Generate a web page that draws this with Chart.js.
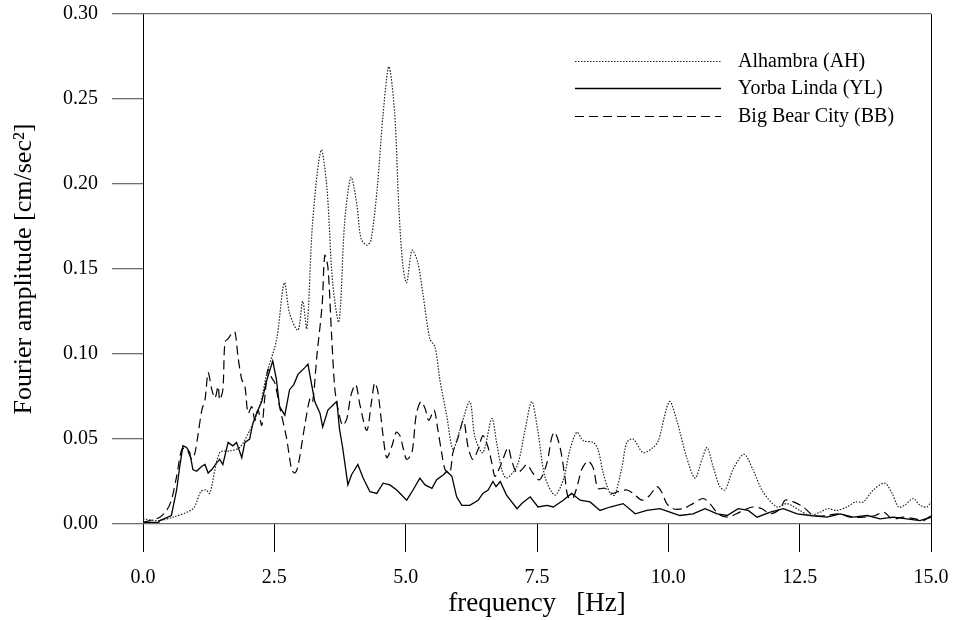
<!DOCTYPE html>
<html>
<head>
<meta charset="utf-8">
<title>Fourier amplitude spectra</title>
<script src="https://cdn.jsdelivr.net/npm/chart.js@4"></script>
<style>
  body { margin: 0; background: #fff; }
  #wrap { width: 955px; height: 620px; }
</style>
</head>
<body>
<div id="wrap"><canvas id="spectrum" width="955" height="620"></canvas></div>
<script>
// values (frequency in Hz, amplitude in cm/sec^2)
const alhFreq = [0.0, 0.3, 0.57, 0.95, 1.1, 1.2, 1.27, 1.46, 1.65, 1.84, 2.03, 2.22, 2.36, 2.54, 2.66, 2.7, 2.79, 2.95, 3.04, 3.12,
  3.23, 3.39, 3.5, 3.61, 3.73, 3.84, 3.96, 4.07, 4.15, 4.26, 4.34, 4.46, 4.57, 4.68, 4.79, 4.87, 4.95, 5.02, 5.12, 5.23,
  5.33, 5.46, 5.56, 5.65, 5.78, 5.9, 6.03, 6.22, 6.32, 6.47, 6.64, 6.73, 6.83, 6.92, 7.12, 7.27, 7.4, 7.52, 7.65, 7.84,
  8.0, 8.13, 8.26, 8.38, 8.57, 8.66, 8.76, 8.89, 8.98, 9.12, 9.21, 9.33, 9.52, 9.71, 9.81, 10.02, 10.16, 10.35, 10.51, 10.64,
  10.74, 10.85, 10.98, 11.08, 11.23, 11.44, 11.61, 11.8, 12.07, 12.26, 12.5, 12.7, 12.89, 13.04, 13.2, 13.4, 13.56, 13.71, 13.9, 14.12,
  14.26, 14.38, 14.5, 14.66, 14.79, 14.92, 15.0];
const alhAmp = [0.003, 0.002, 0.004, 0.009, 0.019, 0.020, 0.018, 0.042, 0.043, 0.045, 0.055, 0.069, 0.089, 0.108, 0.138, 0.142, 0.124, 0.114, 0.131, 0.115,
  0.178, 0.220, 0.198, 0.142, 0.119, 0.178, 0.204, 0.188, 0.168, 0.164, 0.167, 0.198, 0.241, 0.269, 0.242, 0.186, 0.151, 0.142, 0.161, 0.154,
  0.135, 0.109, 0.104, 0.085, 0.064, 0.044, 0.055, 0.072, 0.051, 0.042, 0.062, 0.048, 0.032, 0.027, 0.034, 0.055, 0.072, 0.054, 0.028, 0.017,
  0.026, 0.044, 0.054, 0.049, 0.048, 0.044, 0.030, 0.018, 0.017, 0.034, 0.048, 0.050, 0.042, 0.045, 0.049, 0.072, 0.061, 0.039, 0.027, 0.038,
  0.045, 0.034, 0.022, 0.020, 0.032, 0.041, 0.032, 0.019, 0.010, 0.012, 0.008, 0.005, 0.007, 0.009, 0.008, 0.010, 0.013, 0.013, 0.020, 0.024,
  0.018, 0.010, 0.011, 0.015, 0.011, 0.010, 0.013];

const ylFreq = [0.0, 0.3, 0.32, 0.54, 0.64, 0.7, 0.76, 0.83, 0.89, 0.95, 1.02, 1.12, 1.18, 1.24, 1.31, 1.4, 1.46, 1.52, 1.62, 1.71,
  1.78, 1.88, 1.94, 2.03, 2.09, 2.16, 2.26, 2.36, 2.47, 2.54, 2.6, 2.7, 2.79, 2.87, 2.95, 3.08, 3.14, 3.21, 3.27, 3.37,
  3.42, 3.52, 3.65, 3.69, 3.74, 3.8, 3.9, 3.97, 4.09, 4.19, 4.32, 4.45, 4.57, 4.7, 4.83, 5.02, 5.14, 5.27, 5.37, 5.5,
  5.59, 5.72, 5.78, 5.88, 5.97, 6.07, 6.22, 6.38, 6.47, 6.57, 6.66, 6.72, 6.8, 6.92, 7.12, 7.21, 7.37, 7.52, 7.69, 7.81,
  8.0, 8.16, 8.32, 8.51, 8.7, 8.89, 9.14, 9.37, 9.59, 9.84, 10.03, 10.22, 10.47, 10.7, 10.93, 11.12, 11.33, 11.52, 11.69, 11.94,
  12.19, 12.45, 12.7, 13.02, 13.27, 13.52, 13.79, 14.03, 14.28, 14.54, 14.79, 15.0];
const ylAmp = [0.001, 0.001, 0.002, 0.005, 0.020, 0.034, 0.046, 0.045, 0.042, 0.032, 0.031, 0.034, 0.035, 0.030, 0.032, 0.036, 0.038, 0.035, 0.048, 0.046,
  0.048, 0.039, 0.048, 0.050, 0.059, 0.065, 0.072, 0.085, 0.096, 0.085, 0.069, 0.064, 0.079, 0.082, 0.088, 0.092, 0.094, 0.082, 0.072, 0.065,
  0.057, 0.067, 0.071, 0.072, 0.056, 0.045, 0.023, 0.029, 0.035, 0.027, 0.019, 0.018, 0.024, 0.023, 0.020, 0.014, 0.020, 0.027, 0.023, 0.021,
  0.026, 0.029, 0.031, 0.028, 0.016, 0.011, 0.011, 0.014, 0.018, 0.020, 0.025, 0.022, 0.025, 0.017, 0.009, 0.012, 0.016, 0.010, 0.011, 0.010,
  0.014, 0.018, 0.014, 0.013, 0.008, 0.010, 0.012, 0.006, 0.008, 0.009, 0.007, 0.005, 0.006, 0.009, 0.006, 0.005, 0.009, 0.008, 0.004, 0.007,
  0.009, 0.006, 0.005, 0.004, 0.006, 0.004, 0.005, 0.003, 0.004, 0.003, 0.002, 0.004];

const bbFreq = [0.0, 0.13, 0.32, 0.45, 0.54, 0.64, 0.74, 0.83, 0.93, 0.99, 1.04, 1.12, 1.18, 1.24, 1.31, 1.37, 1.43, 1.46, 1.52, 1.56,
  1.62, 1.69, 1.75, 1.81, 1.88, 1.94, 2.0, 2.07, 2.13, 2.19, 2.26, 2.32, 2.38, 2.45, 2.51, 2.6, 2.73, 2.83, 2.89, 2.95,
  3.08, 3.18, 3.23, 3.31, 3.41, 3.46, 3.52, 3.59, 3.65, 3.71, 3.8, 3.88, 3.96, 4.05, 4.13, 4.26, 4.35, 4.41, 4.47, 4.57,
  4.64, 4.74, 4.82, 4.89, 4.95, 5.02, 5.12, 5.2, 5.29, 5.37, 5.44, 5.54, 5.61, 5.69, 5.75, 5.84, 5.9, 6.0, 6.1, 6.19,
  6.28, 6.38, 6.47, 6.57, 6.64, 6.7, 6.8, 6.85, 6.95, 7.02, 7.12, 7.21, 7.31, 7.42, 7.55, 7.69, 7.78, 7.84, 7.94, 8.03,
  8.09, 8.18, 8.28, 8.35, 8.47, 8.57, 8.66, 8.79, 8.93, 9.04, 9.21, 9.33, 9.5, 9.65, 9.78, 9.87, 9.97, 10.09, 10.28, 10.47,
  10.66, 10.79, 10.95, 11.12, 11.3, 11.42, 11.61, 11.78, 11.94, 12.13, 12.22, 12.38, 12.57, 12.76, 13.02, 13.24, 13.46, 13.71, 13.94, 14.1,
  14.26, 14.47, 14.7, 14.86, 15.0];
const bbAmp = [0.001, 0.002, 0.004, 0.008, 0.014, 0.028, 0.044, 0.044, 0.038, 0.042, 0.051, 0.067, 0.073, 0.089, 0.079, 0.074, 0.081, 0.073, 0.079, 0.107,
  0.109, 0.112, 0.113, 0.098, 0.085, 0.081, 0.065, 0.069, 0.061, 0.067, 0.058, 0.075, 0.091, 0.086, 0.083, 0.069, 0.051, 0.032, 0.030, 0.034,
  0.058, 0.074, 0.072, 0.099, 0.129, 0.158, 0.151, 0.111, 0.080, 0.068, 0.058, 0.062, 0.076, 0.082, 0.070, 0.055, 0.072, 0.083, 0.078, 0.052,
  0.039, 0.046, 0.054, 0.052, 0.045, 0.038, 0.042, 0.064, 0.072, 0.068, 0.061, 0.067, 0.056, 0.041, 0.032, 0.030, 0.042, 0.051, 0.061, 0.045,
  0.038, 0.044, 0.052, 0.045, 0.036, 0.028, 0.034, 0.038, 0.045, 0.037, 0.030, 0.032, 0.035, 0.030, 0.026, 0.036, 0.051, 0.054, 0.045, 0.028,
  0.016, 0.015, 0.024, 0.032, 0.037, 0.033, 0.021, 0.021, 0.018, 0.019, 0.020, 0.018, 0.014, 0.017, 0.022, 0.019, 0.012, 0.009, 0.009, 0.012,
  0.015, 0.012, 0.006, 0.004, 0.006, 0.008, 0.010, 0.009, 0.006, 0.009, 0.014, 0.013, 0.010, 0.005, 0.005, 0.006, 0.004, 0.004, 0.005, 0.007,
  0.003, 0.004, 0.003, 0.002, 0.005];

const seriesNames = ['Alhambra (AH)', 'Yorba Linda (YL)', 'Big Bear City (BB)'];
const xTitle = 'frequency   [Hz]';
const yTitle = 'Fourier amplitude [cm/sec\u00b2]';

const serif = "'Liberation Serif', 'DejaVu Serif', serif";

function pairs(xs, ys) {
  return xs.map((f, i) => ({ x: f, y: ys[i] }));
}

// legend drawn inside the plot, top right, line sample then label
const insideLegend = {
  id: 'insideLegend',
  afterDraw(chart) {
    const ctx = chart.ctx;
    const area = chart.chartArea;
    const x0 = area.right - 356, x1 = area.right - 210, tx = area.right - 193;
    const rows = [area.top + 47, area.top + 74, area.top + 102];
    ctx.save();
    ctx.font = '20px ' + serif;
    ctx.textBaseline = 'middle';
    ctx.textAlign = 'left';
    chart.data.datasets.forEach((ds, i) => {
      const y = rows[i] + 0.5;
      ctx.beginPath();
      ctx.setLineDash(ds.borderDash || []);
      ctx.strokeStyle = ds.borderColor;
      ctx.lineWidth = ds.borderWidth;
      ctx.moveTo(x0, y);
      ctx.lineTo(x1, y);
      ctx.stroke();
      ctx.setLineDash([]);
      ctx.fillStyle = '#000';
      ctx.fillText(ds.label, tx, rows[i] + 1);
    });
    ctx.restore();
  }
};

const isEdge = (v, a, b) => Math.abs(v - a) < 1e-9 || Math.abs(v - b) < 1e-9;

new Chart(document.getElementById('spectrum'), {
  type: 'line',
  data: {
    datasets: [
      { label: seriesNames[0], data: pairs(alhFreq, alhAmp), borderColor: '#222', borderWidth: 1.2,
        borderDash: [1.5, 1.5], pointRadius: 0, tension: 0.3, fill: false },
      { label: seriesNames[1], data: pairs(ylFreq, ylAmp), borderColor: '#000', borderWidth: 1.3,
        pointRadius: 0, tension: 0, fill: false },
      { label: seriesNames[2], data: pairs(bbFreq, bbAmp), borderColor: '#000', borderWidth: 1.2,
        borderDash: [9, 5], pointRadius: 0, tension: 0.3, fill: false }
    ]
  },
  options: {
    responsive: false,
    animation: false,
    layout: { padding: { top: 14, right: 24, bottom: 0, left: 0 } },
    plugins: {
      legend: { display: false },
      tooltip: { enabled: false }
    },
    scales: {
      x: {
        type: 'linear',
        min: 0,
        max: 15,
        border: { display: false },
        grid: {
          color: c => isEdge(c.tick.value, 0, 15) ? '#000' : 'rgba(0,0,0,0)',
          tickColor: '#000',
          tickLength: 28,
          lineWidth: 1
        },
        ticks: {
          stepSize: 2.5,
          padding: 14,
          color: '#000',
          maxRotation: 0,
          font: { family: serif, size: 20 },
          callback: v => v.toFixed(1)
        },
        title: {
          display: true,
          text: xTitle,
          color: '#000',
          padding: { top: 0, bottom: 0 },
          font: { family: serif, size: 27 }
        },
        afterFit: s => { s.height = 96; s.paddingLeft = 0; s.paddingRight = 0; }
      },
      y: {
        min: 0,
        max: 0.3,
        border: { display: false },
        grid: {
          color: c => isEdge(c.tick.value, 0, 0.3) ? '#707070' : 'rgba(0,0,0,0)',
          tickColor: '#707070',
          tickLength: 31,
          lineWidth: 1.3
        },
        ticks: {
          stepSize: 0.05,
          padding: 14,
          color: '#000',
          font: { family: serif, size: 20 },
          callback: v => v.toFixed(2)
        },
        title: {
          display: true,
          text: yTitle,
          color: '#000',
          padding: { top: 9, bottom: 0 },
          font: { family: serif, size: 26 }
        },
        afterFit: s => { s.width = 143; s.paddingTop = 0; s.paddingBottom = 0; }
      }
    }
  },
  plugins: [insideLegend]
});
</script>
</body>
</html>
